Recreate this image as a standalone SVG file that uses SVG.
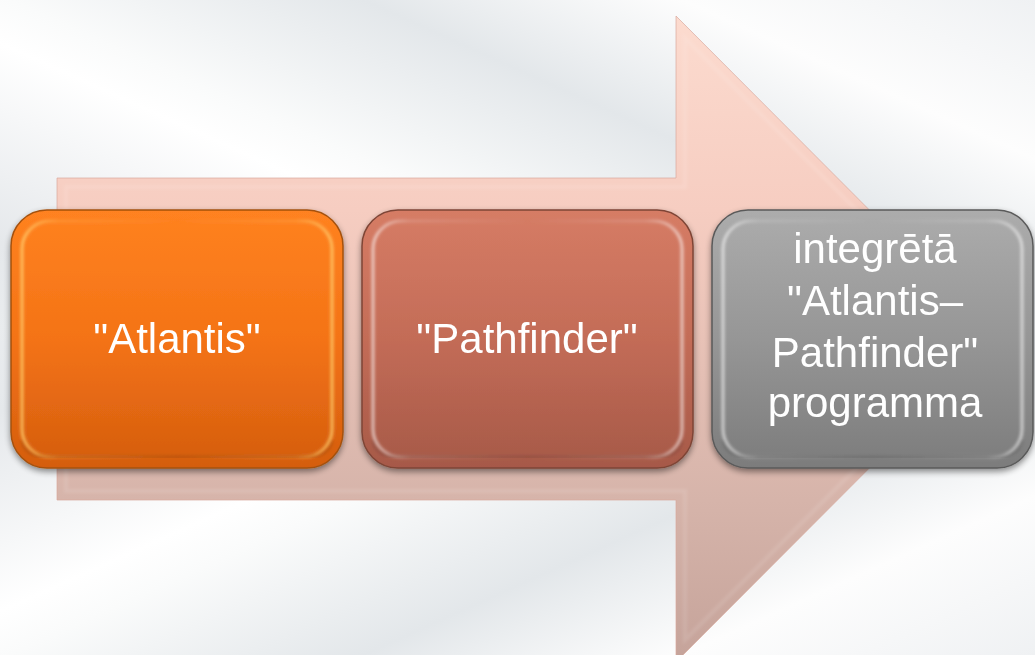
<svg xmlns="http://www.w3.org/2000/svg" width="1035" height="655" viewBox="0 0 1035 655">
<defs>
<linearGradient id="bg" gradientUnits="userSpaceOnUse" x1="0" y1="330" x2="298" y2="-332">
<stop offset="0" stop-color="#e9ecee"/>
<stop offset="0.11" stop-color="#e5e8eb"/>
<stop offset="0.36" stop-color="#ffffff"/>
<stop offset="0.42" stop-color="#fafbfb"/>
<stop offset="0.62" stop-color="#e3e7ea"/>
<stop offset="0.80" stop-color="#fdfdfd"/>
<stop offset="1" stop-color="#eff1f3"/>
</linearGradient>
<linearGradient id="arrowFill" gradientUnits="userSpaceOnUse" x1="0" y1="16" x2="0" y2="662">
<stop offset="0" stop-color="#fcdbcf"/>
<stop offset="0.3" stop-color="#f6cdc1"/>
<stop offset="0.75" stop-color="#d6b4aa"/>
<stop offset="1" stop-color="#c5a39a"/>
</linearGradient>
<linearGradient id="gOrange" x1="0" y1="0" x2="0" y2="1">
<stop offset="0" stop-color="#ff8220"/>
<stop offset="0.5" stop-color="#f47316"/>
<stop offset="1" stop-color="#d45d0e"/>
</linearGradient>
<linearGradient id="gSalmon" x1="0" y1="0" x2="0" y2="1">
<stop offset="0" stop-color="#d67c65"/>
<stop offset="0.5" stop-color="#c36c57"/>
<stop offset="1" stop-color="#a65948"/>
</linearGradient>
<linearGradient id="gGrey" x1="0" y1="0" x2="0" y2="1">
<stop offset="0" stop-color="#acacac"/>
<stop offset="0.5" stop-color="#969696"/>
<stop offset="1" stop-color="#7c7c7c"/>
</linearGradient>
<linearGradient id="rimG" x1="0" y1="0" x2="1" y2="0">
<stop offset="0" stop-color="#ffffff" stop-opacity="0.6"/>
<stop offset="0.12" stop-color="#ffffff" stop-opacity="0.15"/>
<stop offset="0.5" stop-color="#ffffff" stop-opacity="0"/>
<stop offset="0.88" stop-color="#ffffff" stop-opacity="0.15"/>
<stop offset="1" stop-color="#ffffff" stop-opacity="0.6"/>
</linearGradient>
<linearGradient id="rimY" x1="0" y1="0" x2="1" y2="0">
<stop offset="0" stop-color="#ffd070" stop-opacity="0.8"/>
<stop offset="0.12" stop-color="#ffd070" stop-opacity="0.2"/>
<stop offset="0.5" stop-color="#ffd070" stop-opacity="0"/>
<stop offset="0.88" stop-color="#ffd070" stop-opacity="0.2"/>
<stop offset="1" stop-color="#ffd070" stop-opacity="0.8"/>
</linearGradient>
<filter id="shadow" x="-10%" y="-10%" width="120%" height="125%">
<feGaussianBlur in="SourceAlpha" stdDeviation="3"/>
<feOffset dy="3" result="b"/>
<feComponentTransfer><feFuncA type="linear" slope="0.45"/></feComponentTransfer>
<feMerge><feMergeNode/><feMergeNode in="SourceGraphic"/></feMerge>
</filter>
<filter id="soft" x="-5%" y="-5%" width="110%" height="110%">
<feGaussianBlur stdDeviation="1.6"/>
</filter>
</defs>
<style>
.lbl{font-family:"Liberation Sans",Arial,sans-serif;font-size:42px;fill:#ffffff;text-anchor:middle}
.edge{fill:none;stroke-width:1.5}
.rim{fill:none;stroke:url(#rimG);stroke-width:3}
.bot{fill:none;stroke:#000000;stroke-opacity:0.12;stroke-width:3}
</style>
<rect x="0" y="0" width="1035" height="328" fill="url(#bg)"/>
<rect x="0" y="0" width="1035" height="328" fill="url(#bg)" transform="translate(0,655) scale(1,-1)"/>
<g id="connectors">
<polygon id="arrow" points="57,178 676,178 676,16 998,339 676,662 676,500 57,500" fill="url(#arrowFill)" stroke="#d8aa9e" stroke-width="1" stroke-opacity="0.7"/>
<polygon points="66,187 685,187 685,38 985,339 685,640 685,491 66,491" fill="none" stroke="#ffffff" stroke-width="4" stroke-opacity="0.1" filter="url(#soft)"/>
</g>
<g id="node1" filter="url(#shadow)">
<rect x="11" y="210" width="332" height="258" rx="36" fill="url(#gOrange)"/>
<path d="M22,440 Q24,457 50,457 L304,457 Q330,457 332,440" class="bot" filter="url(#soft)"/>
<rect x="11" y="210" width="332" height="258" rx="36" class="edge" stroke="#a4510d"/>
<rect x="22" y="221" width="310" height="236" rx="28" class="rim" style="stroke:url(#rimY)" filter="url(#soft)"/>
<text class="lbl" x="177" y="353">"Atlantis"</text>
</g>
<g id="node2" filter="url(#shadow)">
<rect x="362" y="210" width="331" height="258" rx="36" fill="url(#gSalmon)"/>
<path d="M373,440 Q375,457 401,457 L654,457 Q680,457 682,440" class="bot" filter="url(#soft)"/>
<rect x="362" y="210" width="331" height="258" rx="36" class="edge" stroke="#7e4536"/>
<rect x="373" y="221" width="309" height="236" rx="28" class="rim" filter="url(#soft)"/>
<text class="lbl" x="527" y="353">"Pathfinder"</text>
</g>
<g id="node3" filter="url(#shadow)">
<rect x="712" y="210" width="321" height="258" rx="36" fill="url(#gGrey)"/>
<path d="M723,440 Q725,457 751,457 L994,457 Q1020,457 1022,440" class="bot" filter="url(#soft)"/>
<rect x="712" y="210" width="321" height="258" rx="36" class="edge" stroke="#5a5a5a"/>
<rect x="723" y="221" width="299" height="236" rx="28" class="rim" filter="url(#soft)"/>
<text class="lbl" x="875" y="263">integrētā</text>
<text class="lbl" x="875" y="315">"Atlantis–</text>
<text class="lbl" x="875" y="367">Pathfinder"</text>
<text class="lbl" x="875" y="417">programma</text>
</g>
</svg>
